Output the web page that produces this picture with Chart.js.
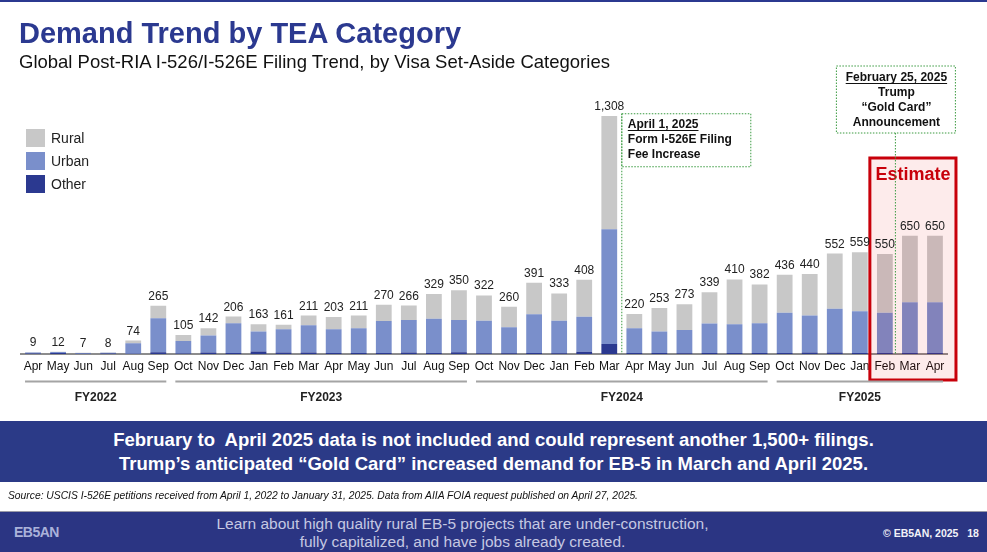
<!DOCTYPE html>
<html>
<head>
<meta charset="utf-8">
<script src="https://cdn.jsdelivr.net/npm/chart.js@4.4.1/dist/chart.umd.min.js"></script>
<style>
  body { margin: 0; background: #fff; }
  #wrap { position: relative; width: 987px; height: 552px; overflow: hidden; background: #fff;
          font-family: "Liberation Sans", Arial, sans-serif; color: #111; }
  #chart { position: absolute; left: 0; top: 0; }
  .abs { position: absolute; white-space: nowrap; }
  #topline { left: 0; top: 0; width: 987px; height: 2px; background: #2b3990; }
  #title { left: 19px; top: 17px; font-size: 29px; font-weight: bold; color: #2b3990; }
  #subtitle { left: 19px; top: 51px; font-size: 18.5px; color: #111; }
  #legend { left: 26px; top: 126px; }
  .lg { display: flex; align-items: center; height: 23px; font-size: 14px; color: #222; }
  .lg span { display: inline-block; width: 19px; height: 18px; margin-right: 6px; }
  #band { left: 0; top: 421px; width: 987px; height: 61px; background: #2b3a87; color: #fff;
          font-size: 18.5px; font-weight: bold; text-align: center; line-height: 24px; padding-top: 7px; box-sizing: border-box; }
  #source { left: 8px; top: 490px; font-size: 10.3px; font-style: italic; color: #111; }
  #footer { left: 0; top: 511px; width: 987px; height: 41px; background: #2b3583; border-top: 1px solid #9a9aa8; }
  #foottext { left: 0; top: 515px; width: 925px; text-align: center; font-size: 15.5px; line-height: 18px; color: #c5c8e2; }
  #logo { left: 14px; top: 524px; font-size: 14px; font-weight: bold; color: #aab2da; letter-spacing: -0.5px; }
  #copy { left: 883px; top: 527px; font-size: 10.5px; font-weight: bold; color: #f2f2f8; }
</style>
</head>
<body>
<div id="wrap">
  <canvas id="chart" width="987" height="552"></canvas>
  <div class="abs" id="topline"></div>
  <div class="abs" id="title">Demand Trend by TEA Category</div>
  <div class="abs" id="subtitle">Global Post-RIA I-526/I-526E Filing Trend, by Visa Set-Aside Categories</div>
  <div class="abs" id="legend"></div>
  <div class="abs" id="band">February to&nbsp; April 2025 data is not included and could represent another 1,500+ filings.<br>Trump’s anticipated “Gold Card” increased demand for EB-5 in March and April 2025.</div>
  <div class="abs" id="source">Source: USCIS I-526E petitions received from April 1, 2022 to January 31, 2025. Data from AIIA FOIA request published on April 27, 2025.</div>
  <div class="abs" id="footer"></div>
  <div class="abs" id="logo">EB5AN</div>
  <div class="abs" id="foottext">Learn about high quality rural EB-5 projects that are under-construction,<br>fully capitalized, and have jobs already created.</div>
  <div class="abs" id="copy">© EB5AN, 2025&nbsp;&nbsp; 18</div>
</div>
<script>
const months = ["Apr", "May", "Jun", "Jul", "Aug", "Sep",
  "Oct", "Nov", "Dec", "Jan", "Feb", "Mar", "Apr", "May", "Jun", "Jul", "Aug", "Sep",
  "Oct", "Nov", "Dec", "Jan", "Feb", "Mar", "Apr", "May", "Jun", "Jul", "Aug", "Sep",
  "Oct", "Nov", "Dec", "Jan", "Feb", "Mar", "Apr"];

const other = [3, 5, 1, 3, 2, 10,
  3, 8, 5, 14, 8, 8, 6, 5, 5, 8, 5, 10,
  4, 4, 6, 4, 12, 55, 5, 5, 4, 5, 5, 6,
  6, 8, 8, 5, 5, 5, 5];
const urban = [5, 6, 5, 4, 57, 186,
  68, 93, 164, 109, 128, 150, 130, 136, 176, 179, 189, 177,
  179, 143, 212, 179, 193, 631, 136, 118, 128, 162, 158, 163,
  221, 203, 241, 230, 222, 279, 279];
const rural = [1, 1, 1, 1, 15, 69,
  34, 41, 37, 40, 25, 53, 67, 70, 89, 79, 135, 163,
  139, 113, 173, 150, 203, 622, 79, 130, 141, 172, 247, 213,
  209, 229, 303, 324, 323, 366, 366];

const fyLabels = ["FY2022", "FY2023", "FY2024", "FY2025"];
const fyStart = [0, 6, 18, 30];
const fyEnd = [5, 17, 29, 36];

const estimateFrom = 34;   // Feb 2025 onwards is estimated
const feeLineAfter = 23;   // Mar 2024 | Apr 2024
const goldLineAfter = 34;  // Feb 2025 | Mar 2025

const colors = { Rural: "#c8c8c8", Urban: "#7a8fcb", Other: "#2b3990" };

// legend, top to bottom
const legend = document.getElementById("legend");
["Rural", "Urban", "Other"].forEach(name => {
  const row = document.createElement("div");
  row.className = "lg";
  row.innerHTML = `<span style="background:${colors[name]}"></span>${name}`;
  legend.appendChild(row);
});

const totals = months.map((m, i) => other[i] + urban[i] + rural[i]);

function dotted(ctx) {
  ctx.strokeStyle = "#3a9a40";
  ctx.lineWidth = 1;
  ctx.setLineDash([1.5, 1.5]);
}

const overlay = {
  id: "overlay",
  afterDatasetsDraw(chart) {
    const { ctx, scales: { x, y } } = chart;
    const base = y.getPixelForValue(0);
    const step = x.getPixelForValue(1) - x.getPixelForValue(0);
    ctx.save();

    // estimate box
    const bx0 = x.getPixelForValue(estimateFrom) - 15;
    const bx1 = x.getPixelForValue(months.length - 1) + 21;
    const by0 = 158, by1 = 380;
    ctx.fillStyle = "rgba(225,0,0,0.08)";
    ctx.fillRect(bx0, by0, bx1 - bx0, by1 - by0);
    ctx.strokeStyle = "#c8000a";
    ctx.lineWidth = 3;
    ctx.strokeRect(bx0, by0, bx1 - bx0, by1 - by0);
    ctx.fillStyle = "#c8000a";
    ctx.font = "bold 18px 'Liberation Sans', Arial, sans-serif";
    ctx.textAlign = "center";
    ctx.textBaseline = "alphabetic";
    ctx.fillText("Estimate", (bx0 + bx1) / 2, 180);

    // fee increase marker
    const fx = x.getPixelForValue(feeLineAfter) + step / 2;
    dotted(ctx);
    ctx.beginPath();
    ctx.moveTo(fx, y.getPixelForValue(1320));
    ctx.lineTo(fx, base);
    ctx.stroke();
    ctx.strokeRect(fx, y.getPixelForValue(1320), 129, 53);

    // gold card marker
    const gx = x.getPixelForValue(goldLineAfter) + step / 2 - 2;
    ctx.beginPath();
    ctx.moveTo(gx, 133);
    ctx.lineTo(gx, base);
    ctx.stroke();
    ctx.strokeRect(gx - 59, 66, 119, 67);
    ctx.setLineDash([]);

    ctx.fillStyle = "#111";
    ctx.font = "bold 12px 'Liberation Sans', Arial, sans-serif";
    ctx.textAlign = "left";
    const feeLines = ["April 1, 2025", "Form I-526E Filing", "Fee Increase"];
    feeLines.forEach((t, k) => ctx.fillText(t, fx + 6, 128 + k * 15));
    let w = ctx.measureText(feeLines[0]).width;
    ctx.fillRect(fx + 6, 130, w, 1);

    ctx.textAlign = "center";
    const goldLines = ["February 25, 2025", "Trump", "“Gold Card”", "Announcement"];
    goldLines.forEach((t, k) => ctx.fillText(t, gx + 1, 81 + k * 15));
    w = ctx.measureText(goldLines[0]).width;
    ctx.fillRect(gx + 1 - w / 2, 83, w, 1);

    // value labels on top of each stack
    const top = chart.getDatasetMeta(2).data;
    ctx.fillStyle = "#222";
    ctx.font = "12px 'Liberation Sans', Arial, sans-serif";
    totals.forEach((t, i) => {
      ctx.fillText(t.toLocaleString("en-US"), top[i].x, top[i].y - 6);
    });

    // fiscal year groups
    ctx.strokeStyle = "#a4a4a4";
    ctx.lineWidth = 2;
    ctx.font = "bold 12px 'Liberation Sans', Arial, sans-serif";
    fyLabels.forEach((lab, k) => {
      const a = x.getPixelForValue(fyStart[k]) - 8;
      const b = x.getPixelForValue(fyEnd[k]) + 8;
      ctx.beginPath();
      ctx.moveTo(a, 381.5);
      ctx.lineTo(b, 381.5);
      ctx.stroke();
      ctx.fillText(lab, (a + b) / 2, 401);
    });
    ctx.restore();
  }
};

Chart.defaults.font.family = "'Liberation Sans', Arial, sans-serif";

new Chart(document.getElementById("chart"), {
  type: "bar",
  data: {
    labels: months,
    datasets: [
      { label: "Other", data: other, backgroundColor: colors.Other },
      { label: "Urban", data: urban, backgroundColor: colors.Urban },
      { label: "Rural", data: rural, backgroundColor: colors.Rural }
    ]
  },
  options: {
    responsive: false,
    animation: false,
    layout: { padding: { left: 20.5, right: 39.5, top: 99.2, bottom: 176 } },
    datasets: { bar: { barPercentage: 0.63, categoryPercentage: 1 } },
    plugins: { legend: { display: false }, tooltip: { enabled: false } },
    scales: {
      x: {
        stacked: true,
        grid: { display: false, drawTicks: false },
        border: { display: true, color: "#8c8c8c", width: 2 },
        ticks: { color: "#111", font: { size: 12 }, padding: 5, maxRotation: 0, autoSkip: false },
        afterFit: s => { s.height = 22; }
      },
      y: { stacked: true, display: false, min: 0, max: 1400 }
    }
  },
  plugins: [overlay]
});
</script>
</body>
</html>
